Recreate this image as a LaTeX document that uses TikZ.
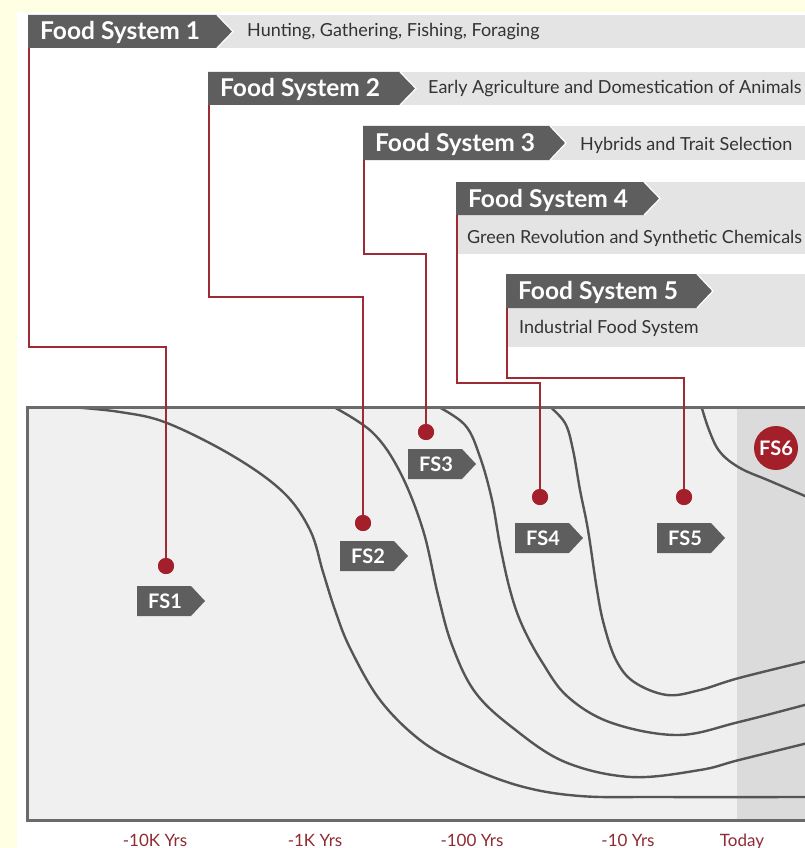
\documentclass[tikz,border=0pt]{standalone}
\usepackage{fontspec}
\setmainfont{Lato}
\definecolor{bgy}{HTML}{FFFFE4}
\definecolor{dk}{HTML}{5E5E5E}
\definecolor{band}{HTML}{E4E4E4}
\definecolor{fsred}{HTML}{A3202B}
\definecolor{linered}{HTML}{9E2A33}
\definecolor{chartbg}{HTML}{F0F0F0}
\definecolor{todaybg}{HTML}{DBDBDB}
\definecolor{curvec}{HTML}{555555}
\definecolor{framec}{HTML}{6A6A6A}
\definecolor{axisred}{HTML}{8E2B33}
\tikzset{
  hdrtext/.style={inner sep=0pt, text=white, font=\fontsize{24.5}{28}\selectfont\bfseries},
  desctext/.style={inner sep=0pt, text=black!80, font=\fontsize{18}{21}\selectfont},
  tagtext/.style={inner sep=0pt, text=white, font=\fontsize{20}{23}\selectfont\bfseries},
  axistext/.style={inner sep=0pt, text=axisred, font=\fontsize{17}{20}\selectfont},
  conn/.style={draw=linered, line width=2pt},
  dotnode/.style={circle, fill=fsred, inner sep=0pt, minimum size=16pt},
  curveline/.style={draw=curvec, line width=2.4pt, line cap=round},
}
\newcommand{\hdr}[6]{%
  \fill[dk] (#2,#4) -- (#3,#4) -- ({#3+16},{(#4+#5)/2}) -- (#3,#5) -- (#2,#5) -- cycle;
  \draw[white, line width=1.2pt] (#3,#4) -- ({#3+16},{(#4+#5)/2}) -- (#3,#5);
  \node[hdrtext, anchor=base west] (#1) at ({#2+12},{(#4+#5)/2+8.5}) {#6};
  \coordinate (#1c) at ({#2+1},#5);
}
\newcommand{\fstag}[4]{%
  \fill[dk] (#2,#3) -- ({#2+54},#3) -- ({#2+68},{#3+15}) -- ({#2+54},{#3+30}) -- (#2,{#3+30}) -- cycle;
  \node[tagtext] (#1) at ({#2+28},{#3+15}) {#4};
}
\begin{document}
\begin{tikzpicture}[x=1pt,y=-1pt]
\useasboundingbox (0,0) rectangle (805,848);
\fill[bgy] (0,0) rectangle (805,848);
\fill[white] (17,12) rectangle (805,848);

% bands
\fill[band] (217,15) rectangle (805,48);
\fill[band] (400,72) rectangle (805,105);
\fill[band] (550,126) rectangle (805,160);
\fill[band] (456,182) rectangle (805,254);
\fill[band] (506,274) rectangle (805,347);

% chart
\fill[chartbg] (27,407) rectangle (812,820);
\fill[todaybg] (737,407) rectangle (812,820);
\begin{scope}
\clip (27,407) rectangle (812,820);
\draw[curveline] plot[smooth, tension=0.6] coordinates {(70,407) (120,412) (167,423) (233,456) (283,492) (310,530) (323,572) (335,610) (350,648) (380,700) (420,740) (462,764) (520,786) (580,796) (660,797) (812,797)};
\draw[curveline] plot[smooth, tension=0.6] coordinates {(330,405) (372,432) (400,472) (423,530) (438,595) (452,645) (475,692) (513,728) (565,762) (631,777) (700,770) (739,760) (812,742)};
\draw[curveline] plot[smooth, tension=0.6] coordinates {(435,405) (465,425) (480,457) (492,500) (500,545) (510,590) (522,625) (542,662) (568,697) (612,723) (678,735) (739,722) (812,703)};
\draw[curveline] plot[smooth, tension=0.6] coordinates {(548,405) (565,423) (573,450) (580,490) (588,530) (597,590) (604,625) (616,660) (634,682) (667,695) (700,690) (739,678) (812,660)};
\draw[curveline] plot[smooth, tension=0.6] coordinates {(701,405) (709,430) (720,452) (740,468) (770,481) (812,499)};
\end{scope}
\draw[framec, line width=3pt] (812,407) -- (27,407) -- (27,820) -- (812,820);

% headers
\hdr{h1}{28}{217}{15}{48}{Food System 1}
\hdr{h2}{208}{400}{72}{105}{Food System 2}
\hdr{h3}{363}{550}{126}{160}{Food System 3}
\hdr{h4}{456}{644}{182}{215}{Food System 4}
\hdr{h5}{506}{697}{274}{308}{Food System 5}

\node[desctext, anchor=base west] (d1) at (247,37) {Hunting, Gathering, Fishing, Foraging};
\node[desctext, anchor=base west] (d2) at (428,94) {Early Agriculture and Domestication of Animals};
\node[desctext, anchor=base west] (d3) at (580,150) {Hybrids and Trait Selection};
\node[desctext, anchor=base west] (d4) at (467,243) {Green Revolution and Synthetic Chemicals};
\node[desctext, anchor=base west] (d5) at (519,333) {Industrial Food System};

% bend points
\coordinate (m1) at (166,347);
\coordinate (m2) at (363,297);
\coordinate (m3) at (426,254);
\coordinate (m4) at (540,383);
\coordinate (m5) at (684,378);

% dots
\node[dotnode] (p1) at (166,566) {};
\node[dotnode] (p2) at (363,523) {};
\node[dotnode] (p3) at (426,432) {};
\node[dotnode] (p4) at (540,497) {};
\node[dotnode] (p5) at (684,497) {};

\draw[conn] (h1c) |- (m1) -- (p1.center);
\draw[conn] (h2c) |- (m2) -- (p2.center);
\draw[conn] (h3c) |- (m3) -- (p3.center);
\draw[conn] (h4c) |- (m4) -- (p4.center);
\draw[conn] (h5c) |- (m5) -- (p5.center);
\node[dotnode] at (p1) {};
\node[dotnode] at (p2) {};
\node[dotnode] at (p3) {};
\node[dotnode] at (p4) {};
\node[dotnode] at (p5) {};

% tags
\fstag{t1}{137}{586}{FS1}
\fstag{t2}{340}{541}{FS2}
\fstag{t3}{408}{449}{FS3}
\fstag{t4}{515}{523}{FS4}
\fstag{t5}{657}{523}{FS5}

\node[circle, fill=fsred, minimum size=44pt, inner sep=0pt, tagtext] (fs6) at (776,448) {FS6};

% axis
\node[axistext, anchor=base] (a1) at (155,846) {-10K Yrs};
\node[axistext, anchor=base] (a2) at (315,846) {-1K Yrs};
\node[axistext, anchor=base] (a3) at (472,846) {-100 Yrs};
\node[axistext, anchor=base] (a4) at (628,846) {-10 Yrs};
\node[axistext, anchor=base] (a5) at (742,846) {Today};
\end{tikzpicture}
\end{document}
